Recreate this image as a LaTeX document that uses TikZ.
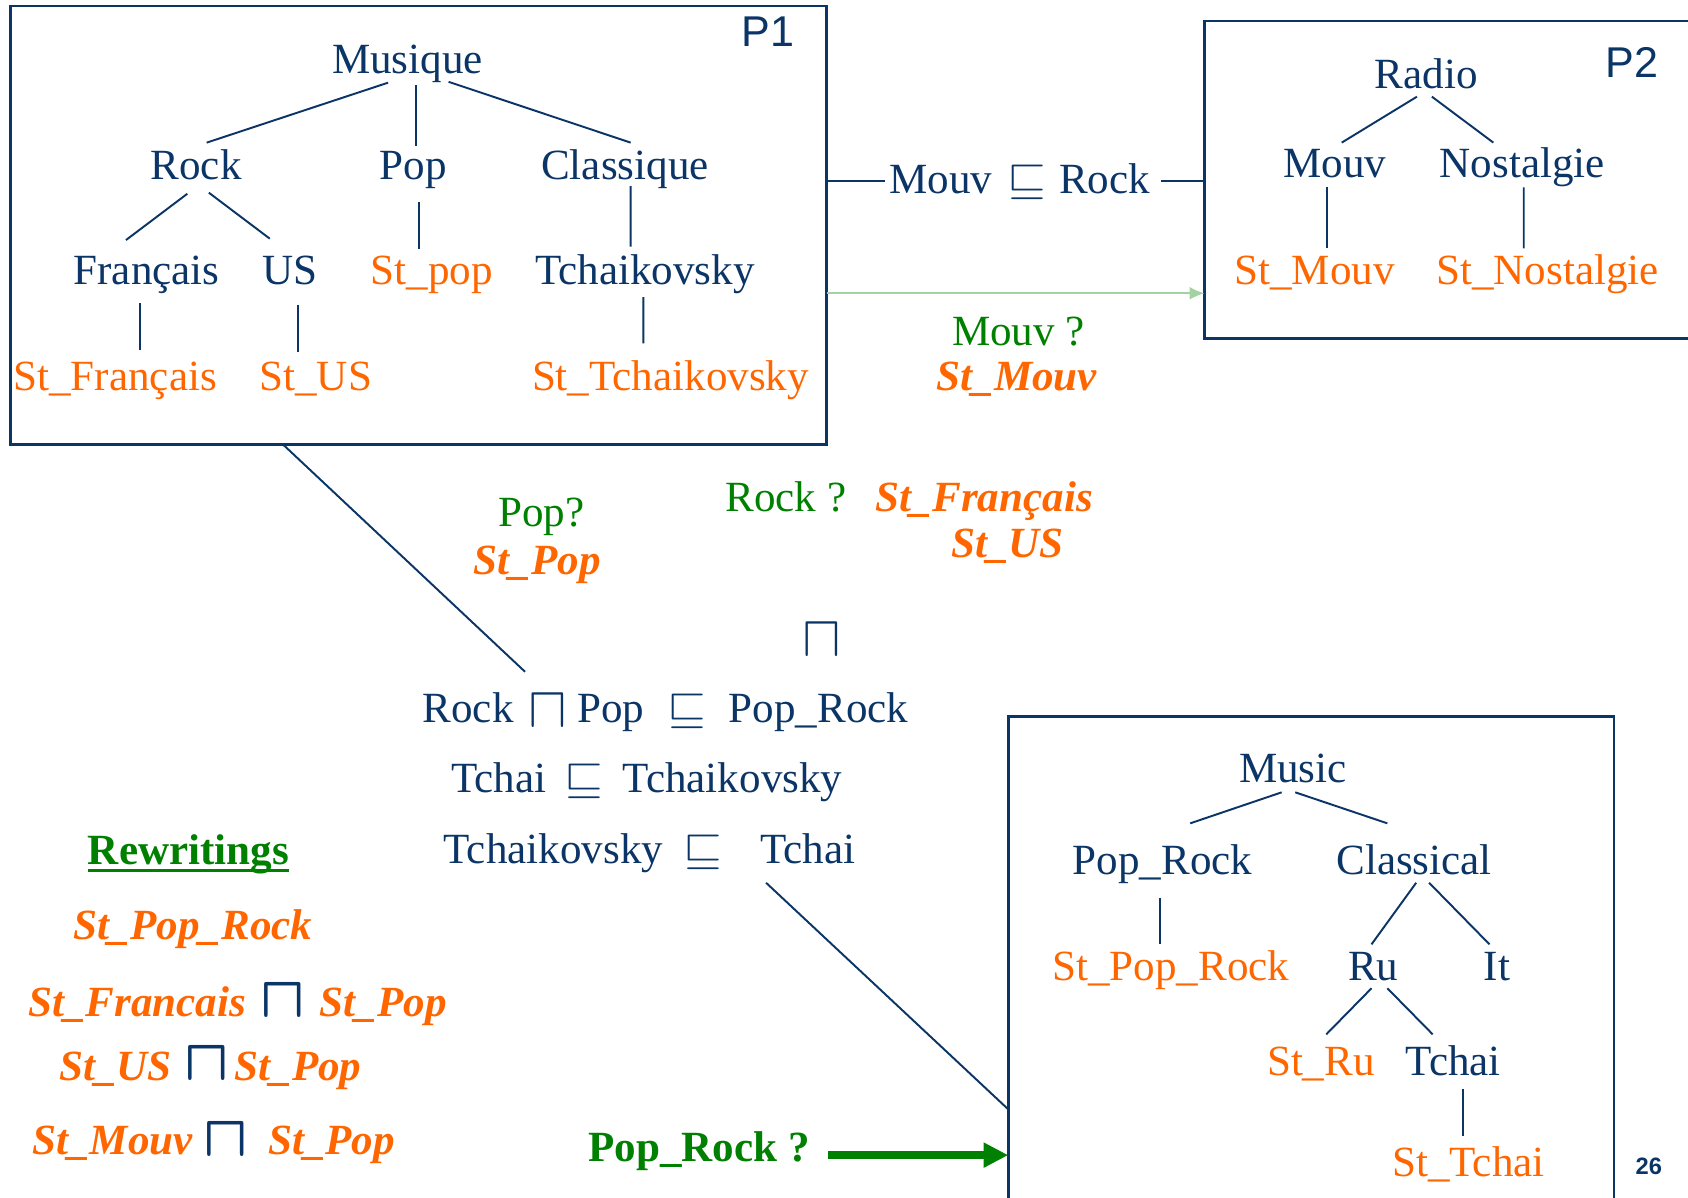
\documentclass[tikz,border=0pt]{standalone}
\usepackage{fontspec}
\setmainfont{Liberation Serif}
\newfontfamily\labelsans{Liberation Sans}
\usepackage{graphicx}
\usetikzlibrary{calc,arrows.meta}

\definecolor{navy}{HTML}{0B3566}
\definecolor{orng}{HTML}{FF6600}
\definecolor{grn}{HTML}{008000}
\definecolor{lgrn}{HTML}{A3D3A3}

% subsumption and conjunction symbols
\newcommand\subsym{\scalebox{1.12}[1]{$\sqsubseteq$}}
\newcommand\capsym{\scalebox{1.3}{$\sqcap$}}
\newcommand\boldcapsym{\scalebox{1.3}{\boldmath$\sqcap$}}
% edge of a taxonomy tree, end points given relative to the node baselines
\newcommand\treeedge[4]{\draw[treeline] ($(#1.base)+(#2)$) -- ($(#3.base)+(#4)$);}

\tikzset{
  basenode/.style={anchor=base, inner sep=0pt, font=\fontsize{20}{24}\selectfont},
  term/.style={basenode, text=navy},
  inst/.style={basenode, text=orng},
  query/.style={basenode, text=grn},
  ans/.style={basenode, text=orng, font=\fontsize{20}{24}\selectfont\bfseries\itshape},
  symb/.style={basenode, text=navy},
  plabel/.style={basenode, text=navy, font=\fontsize{20}{24}\selectfont\labelsans},
  treeline/.style={draw=navy, line width=0.9pt},
  frame/.style={draw=navy, line width=1.2pt, inner sep=0pt, outer sep=0pt},
  lgarrow/.style={draw=lgrn, line width=1pt, -{Latex[length=7pt,width=6pt]}},
  bigarrow/.style={draw=grn, line width=3.7pt, -{Triangle[length=11.4pt,width=10.9pt]}},
}

\begin{document}
\begin{tikzpicture}[x=0.5pt,y=-0.5pt]
\useasboundingbox (0,0) rectangle (1568,1112);
\clip (0,0) rectangle (1568,1112);

% ---------- ontology P1 ----------
\node[frame, minimum width=379pt, minimum height=203.7pt] (P1box) at (389,209.3) {};
\node[plabel] (p1) at (713.6,43.3) {P1};
\node[term] (mus) at (378.5,68.5) {Musique};
\node[term] (rock) at (182.2,166.6) {Rock};
\node[term] (pop) at (384,166.6) {Pop};
\node[term] (cla) at (580.5,166.6) {Classique};
\node[term] (fra) at (136.2,264) {Français};
\node[term] (us) at (269,264) {US};
\node[inst] (stpop) at (401,264) {St\_pop};
\node[term] (tch) at (599,264) {Tchaikovsky};
\node[inst] (stfr) at (107,362.6) {St\_Français};
\node[inst] (stus) at (293.3,362.6) {St\_US};
\node[inst] (sttch) at (622.8,362.6) {St\_Tchaikovsky};

\treeedge{mus}{-18,8.3}{rock}{9.8,-34.1}
\treeedge{mus}{7.9,10.5}{pop}{2.4,-30.6}
\treeedge{mus}{38.2,7.5}{cla}{5.3,-34.1}
\treeedge{rock}{-8.2,13.4}{fra}{-19.2,-41}
\treeedge{rock}{11.8,12.4}{us}{-18.4,-42.3}
\treeedge{pop}{4.9,21}{stpop}{-12.1,-33}
\treeedge{cla}{5.3,6.2}{tch}{-13.2,-35}
\treeedge{fra}{-6.2,17.7}{stfr}{23,-37.6}
\treeedge{us}{7.5,19}{stus}{-16.8,-36}
\treeedge{tch}{-1.3,12}{sttch}{-25.1,-43.6}

% ---------- ontology P2 ----------
\node[frame, minimum width=230.5pt, minimum height=147.35pt] (P2box) at (1349.5,166.85) {};
\node[plabel] (p2) at (1516,71.8) {P2};
\node[term] (rad) at (1325,82) {Radio};
\node[term] (mouv) at (1240,165) {Mouv};
\node[term] (nos) at (1414,165) {Nostalgie};
\node[inst] (stmouv) at (1221,264) {St\_Mouv};
\node[inst] (stnos) at (1437.6,264) {St\_Nostalgie};

\treeedge{rad}{-8.8,7.8}{mouv}{6.3,-32.5}
\treeedge{rad}{5.1,7.8}{nos}{-26.8,-32.5}
\treeedge{mouv}{-7.6,9}{stmouv}{11.4,-33.3}
\treeedge{nos}{1.4,9}{stnos}{-22.2,-33.3}

% ---------- mapping P1 -- P2 ----------
\node[term] (lbl) at (947.3,179.5) {Mouv\hspace{7pt}\subsym\hspace{6pt}Rock};
\draw[treeline] (P1box.east |- lbl.west) -- ([xshift=-2pt]lbl.west);
\draw[treeline] ([xshift=5pt]lbl.east) -- (P2box.west |- lbl.east);
\draw[lgarrow] ($(P1box.north east)+(0,266.8)$) -- ($(P2box.north west)+(0,252.9)$);
\node[query] (mouvq) at (946,321.4) {Mouv ?};
\node[ans] (stmouvq) at (944.5,362.6) {St\_Mouv};

% ---------- queries and answers ----------
\node[query] (popq) at (503,488.7) {Pop?};
\node[ans] (stpopq) at (499,533.6) {St\_Pop};
\node[query] (rockq) at (730,475.4) {Rock ?};
\node[ans] (stfrq) at (914,475.4) {St\_Français};
\node[ans] (stusq) at (936,517.5) {St\_US};

% ---------- mappings P1 -- P3 ----------
\node[symb] (capA) at (763.4,610) {\capsym};
\node[term] (r1rock) at (434.9,671.4) {Rock};
\node[symb] (r1cap) at (508.5,676) {\capsym};
\node[term] (r1pop) at (567.5,671.4) {Pop};
\node[symb] (r1sub) at (638,671.4) {\subsym};
\node[term] (r1pr) at (760.4,671.4) {Pop\_Rock};
\node[term] (r2tchai) at (463.4,736.4) {Tchai};
\node[symb] (r2sub) at (542,736.4) {\subsym};
\node[term] (r2tch) at (680.5,736.4) {Tchaikovsky};
\node[term] (r3tch) at (514,802.4) {Tchaikovsky};
\node[symb] (r3sub) at (653.3,802.4) {\subsym};
\node[term] (r3tchai) at (750.2,802.4) {Tchai};

% ---------- ontology P3 ----------
\node[frame, minimum width=281.35pt, minimum height=232.15pt] (box3) at (1217.95,897.85) {};
\node[term] (music) at (1201,727.1) {Music};
\node[term] (poprock) at (1080,812.3) {Pop\_Rock};
\node[term] (classical) at (1313.5,812.3) {Classical};
\node[inst] (stpr) at (1087.6,910.7) {St\_Pop\_Rock};
\node[term] (ru) at (1275.5,910.7) {Ru};
\node[term] (it) at (1390.7,910.7) {It};
\node[inst] (stru) at (1227,998.7) {St\_Ru};
\node[term] (tchai) at (1350,998.7) {Tchai};
\node[inst] (sttchai) at (1364,1092.5) {St\_Tchai};

\treeedge{music}{-10.5,8.9}{poprock}{25.6,-47.5}
\treeedge{music}{2.2,8.9}{classical}{-24.8,-47.5}
\treeedge{poprock}{-2.4,21.6}{stpr}{-10,-33.5}
\treeedge{classical}{2,7.7}{ru}{-1.5,-33.5}
\treeedge{classical}{14,7.7}{it}{-7.1,-33.5}
\treeedge{ru}{-1.5,7.3}{stru}{5,-37.9}
\treeedge{ru}{13.2,7.3}{tchai}{-19.2,-37.9}
\treeedge{tchai}{9,13.2}{sttchai}{-5,-37.5}

% links from the ontologies to the mapping rules
\draw[treeline] ($(P1box.south west)+(253,0)$) -- ($(r1cap.base)+(-20.8,-52)$);
\draw[treeline] ($(r3tchai.base)+(-38.6,17.6)$) -- ($(box3.north west)+(0,364.8)$);

% ---------- query on P3 ----------
\node[basenode, text=grn, font=\fontsize{20}{24}\selectfont\bfseries] (prq) at (649.5,1078.6) {Pop\_Rock ?};
\draw[bigarrow] ($(prq.base)+(119.3,-5.6)$) -- ($(box3.north west)+(0,407.3)$);

% ---------- rewritings ----------
\node[basenode, text=grn, font=\fontsize{20}{24}\selectfont\bfseries] (rew) at (175,803) {Rewritings};
\draw[draw=grn, line width=1.4pt] ($(rew.base west)+(0,6)$) -- ($(rew.base east)+(0,6)$);
\node[ans] (rw1) at (179,872.6) {St\_Pop\_Rock};
\node[ans] (rw2a) at (127.6,943.9) {St\_Francais};
\node[symb] (rw2c) at (263.1,944.8) {\boldcapsym};
\node[ans] (rw2b) at (356,943.9) {St\_Pop};
\node[ans] (rw3a) at (107.2,1003.6) {St\_US};
\node[symb] (rw3c) at (192.5,1003.6) {\boldcapsym};
\node[ans] (rw3b) at (276.8,1003.6) {St\_Pop};
\node[ans] (rw4a) at (104.5,1072.4) {St\_Mouv};
\node[symb] (rw4c) at (209.3,1074) {\boldcapsym};
\node[ans] (rw4b) at (308,1072.4) {St\_Pop};

% page number
\node[basenode, text=navy, font=\fontsize{11}{13}\selectfont\labelsans\bfseries] (pg) at (1531.6,1090.6) {26};
\end{tikzpicture}
\end{document}
